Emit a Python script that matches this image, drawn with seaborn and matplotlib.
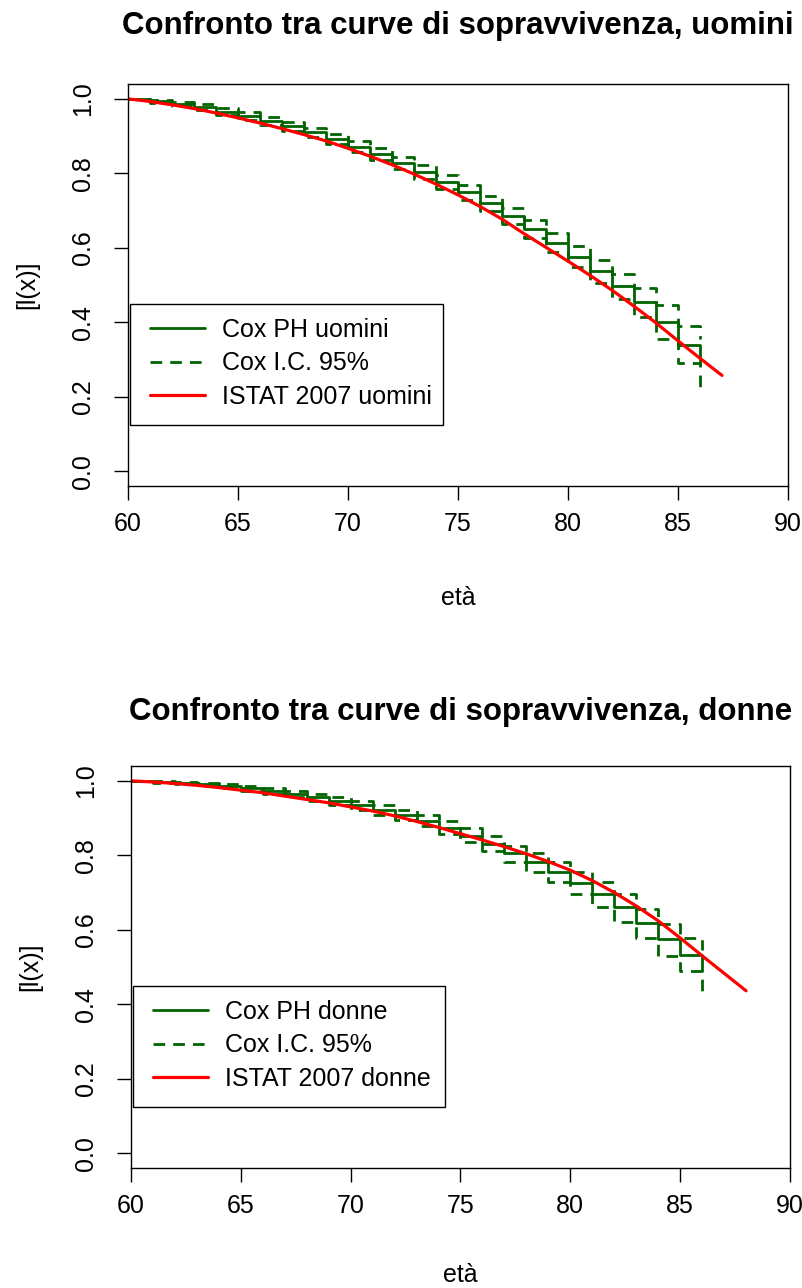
import matplotlib
matplotlib.use("Agg")
import matplotlib.pyplot as plt
import seaborn as sns
from matplotlib.patches import Rectangle

# ---------------- data ----------------
istat_age_m = list(range(60, 88))
istat_m = [1.000, 0.993, 0.984, 0.974, 0.962, 0.949, 0.935, 0.920, 0.904, 0.887,
           0.867, 0.846, 0.823, 0.798, 0.771, 0.742, 0.711, 0.677, 0.638, 0.601,
           0.564, 0.526, 0.486, 0.443, 0.398, 0.350, 0.303, 0.257]

istat_age_f = list(range(60, 89))
istat_f = [1.000, 0.997, 0.993, 0.988, 0.982, 0.975, 0.968, 0.959, 0.950, 0.941,
           0.930, 0.919, 0.906, 0.891, 0.875, 0.858, 0.841, 0.823, 0.804, 0.783,
           0.760, 0.732, 0.700, 0.664, 0.624, 0.578, 0.530, 0.483, 0.436]

cox_time = list(range(60, 87))
cox_m = [1.000, 0.993, 0.986, 0.977, 0.966, 0.954, 0.940, 0.926, 0.910, 0.892,
         0.872, 0.851, 0.828, 0.803, 0.777, 0.749, 0.719, 0.686, 0.651, 0.614,
         0.576, 0.537, 0.496, 0.453, 0.400, 0.340, 0.285]
cox_m_hi = [1.000, 0.997, 0.992, 0.985, 0.975, 0.964, 0.951, 0.938, 0.923, 0.906,
            0.887, 0.867, 0.845, 0.821, 0.796, 0.769, 0.740, 0.708, 0.675, 0.640,
            0.604, 0.568, 0.530, 0.491, 0.445, 0.390, 0.355]
cox_m_lo = [1.000, 0.989, 0.980, 0.969, 0.957, 0.944, 0.929, 0.914, 0.897, 0.878,
            0.857, 0.835, 0.811, 0.785, 0.758, 0.729, 0.698, 0.664, 0.627, 0.588,
            0.548, 0.506, 0.462, 0.415, 0.355, 0.290, 0.216]

cox_f = [1.000, 0.998, 0.995, 0.991, 0.986, 0.980, 0.973, 0.965, 0.956, 0.946,
         0.935, 0.922, 0.908, 0.892, 0.874, 0.853, 0.831, 0.805, 0.781, 0.755,
         0.726, 0.695, 0.660, 0.618, 0.574, 0.533, 0.490]
cox_f_hi = [1.000, 1.000, 0.998, 0.995, 0.991, 0.986, 0.980, 0.973, 0.965, 0.956,
            0.946, 0.934, 0.921, 0.907, 0.891, 0.873, 0.853, 0.826, 0.805, 0.781,
            0.755, 0.727, 0.695, 0.655, 0.615, 0.578, 0.545]
cox_f_lo = [1.000, 0.995, 0.991, 0.986, 0.980, 0.973, 0.965, 0.956, 0.946, 0.935,
            0.923, 0.909, 0.894, 0.878, 0.858, 0.835, 0.811, 0.783, 0.756, 0.727,
            0.695, 0.661, 0.622, 0.578, 0.530, 0.488, 0.430]

x_ticks = [60, 65, 70, 75, 80, 85, 90]
x_tick_labels = ["60", "65", "70", "75", "80", "85", "90"]
y_ticks = [0.0, 0.2, 0.4, 0.6, 0.8, 1.0]
y_tick_labels = ["0.0", "0.2", "0.4", "0.6", "0.8", "1.0"]

titles = ["Confronto tra curve di sopravvivenza, uomini",
          "Confronto tra curve di sopravvivenza, donne"]
legend_labels_m = ["Cox PH uomini", "Cox I.C. 95%", "ISTAT 2007 uomini"]
legend_labels_f = ["Cox PH donne", "Cox I.C. 95%", "ISTAT 2007 donne"]
x_label = "età"
y_label = "[l(x)]"

# ---------------- style ----------------
sns.set_theme(style="white")
plt.rcParams["font.family"] = ["Liberation Sans", "DejaVu Sans"]
plt.rcParams["text.color"] = "black"
plt.rcParams["axes.labelcolor"] = "black"

GREEN = "#006400"
RED = "#FF0000"
DASH = (0, (4.2, 2.9))

fig = plt.figure(figsize=(8.03, 12.88), dpi=100)
ax1 = fig.add_axes([0.1594, 0.6227, 0.8219, 0.3121])
ax2 = fig.add_axes([0.1631, 0.0932, 0.8207, 0.3121])


def draw(ax, s, lo, hi, iage, ival, labels, title, title_pad, xlab_y):
    sns.lineplot(x=cox_time, y=s, drawstyle="steps-post", color=GREEN, lw=2.0,
                 ax=ax, estimator=None, sort=False, label=labels[0])
    sns.lineplot(x=cox_time, y=hi, drawstyle="steps-post", color=GREEN, lw=2.0,
                 linestyle=DASH, ax=ax, estimator=None, sort=False, label=labels[1])
    sns.lineplot(x=cox_time, y=lo, drawstyle="steps-post", color=GREEN, lw=2.0,
                 linestyle=DASH, ax=ax, estimator=None, sort=False)
    sns.lineplot(x=iage, y=ival, color=RED, lw=2.3, ax=ax, estimator=None,
                 sort=False, label=labels[2])

    ax.set_xlim(60, 90)
    ax.set_ylim(-0.04, 1.04)
    ax.set_xticks(x_ticks)
    ax.set_xticklabels(x_tick_labels)
    ax.set_yticks(y_ticks)
    ax.set_yticklabels(y_tick_labels, rotation=90, va="center")
    ax.tick_params(axis="both", direction="out", length=10, width=1.0,
                   colors="black", labelsize=18, left=True, bottom=True)
    ax.tick_params(axis="x", pad=9)
    ax.tick_params(axis="y", pad=14)
    for sp in ax.spines.values():
        sp.set_visible(True)
        sp.set_color("black")
        sp.set_linewidth(1.0)

    ax.set_xlabel(x_label, fontsize=18)
    ax.set_ylabel(y_label, fontsize=18)
    ax.xaxis.set_label_coords(0.5, xlab_y)
    ax.yaxis.set_label_coords(-0.135, 0.5)
    ax.set_title(title, fontsize=22.5, fontweight="bold", pad=title_pad)

    handles, labs = ax.get_legend_handles_labels()
    ax.legend(handles, labs, loc="upper left", bbox_to_anchor=(0.033, 0.418),
              borderaxespad=0, borderpad=0, frameon=False, fontsize=18,
              handlelength=2.2, handletextpad=0.68, labelspacing=0.38)
    ax.add_patch(Rectangle((0.003, 0.1517), 0.474, 0.301, transform=ax.transAxes,
                           fill=False, edgecolor="black", lw=1.0, zorder=5,
                           clip_on=False))


draw(ax1, cox_m, cox_m_lo, cox_m_hi, istat_age_m, istat_m, legend_labels_m,
     titles[0], 36, -0.25)
draw(ax2, cox_f, cox_f_lo, cox_f_hi, istat_age_f, istat_f, legend_labels_f,
     titles[1], 33, -0.236)

fig.savefig("out.png", dpi=100, facecolor="white")
